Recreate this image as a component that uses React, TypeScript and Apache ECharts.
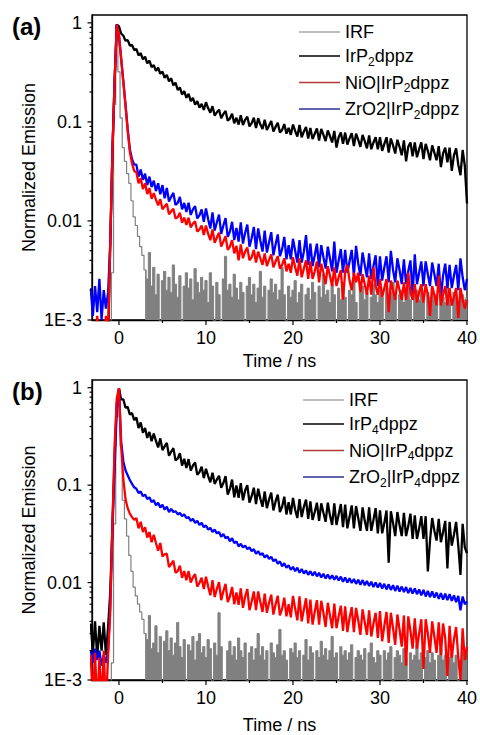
import React, { useEffect, useRef } from 'react';
import * as echarts from 'echarts';

const FONT = "'Liberation Sans', Arial, Helvetica, sans-serif";

// Values, in units of 1E-3 (normalized emission).
const UNIT = 1e-3;
// Time of the first reading and spacing of the readings (ns).
const T_START = -3.25;
const T_STEP = 0.25;

// ---------- panel (a) ----------
const IRF_A = [
  0.5, 0.5, 0.5, 0.5, 0.5, 0.5, 0.5, 0.5, 0.5, 0.5, 3, 150, 950,
  320, 110, 55, 40, 30, 24, 16, 11,
  9, 7, 5.5, 4.5, 3.2, 2.6, 4.8, 2.2,
  3.4, 1.8, 2.9, 0.5, 2.5, 3.1, 2.0, 2.7,
  1.9, 3.6, 2.3, 1.7, 2.8, 0.5, 2.2, 3.0,
  2.1, 2.6, 1.6, 3.3, 2.4, 1.9, 2.7, 2.0,
  2.5, 1.5, 3.0, 2.2, 0.5, 2.4, 1.8, 0.5,
  2.6, 4.4, 2.0, 2.3, 1.7, 2.9, 2.1, 1.6,
  2.4, 1.9, 0.5, 2.2, 2.7, 1.8, 2.3, 1.5,
  2.1, 3.1, 1.7, 2.2, 0.5, 2.0, 2.6, 1.9,
  2.3, 1.6, 2.0, 3.4, 1.8, 0.5, 2.2, 1.7,
  2.0, 2.5, 1.5, 1.9, 2.3, 0.5, 1.8, 2.1,
  1.6, 2.4, 1.9, 0.5, 2.2, 1.7, 2.9, 1.8,
  2.0, 1.5, 2.3, 1.8, 0.5, 2.1, 1.6, 2.4,
  1.7, 0.5, 2.0, 1.8, 2.6, 1.5, 0.5, 1.9,
  2.2, 1.6, 1.9, 0.5, 1.7, 2.3, 1.8, 1.5,
  2.0, 1.7, 0.5, 2.1, 1.6, 1.9, 2.4, 1.7,
  0.5, 1.8, 2.0, 1.5, 1.9, 2.6, 1.6, 0.5,
  1.8, 2.0, 1.6, 2.2, 1.5, 0.5, 1.9, 1.7,
  2.1, 1.6, 1.8, 0.5, 2.0, 1.7, 1.5, 2.3,
  1.6, 0.5, 1.9, 1.7, 1.5, 2.0, 1.8, 1.6,
  1.7,
];

const IRP2_A = [
  0.6, 0.5, 0.7, 0.5, 0.6, 0.5, 0.7, 0.5, 0.6, 6, 50, 260, 960,
  920, 780, 740, 660, 670, 590, 600, 530,
  545, 470, 495, 428, 455, 390, 415, 357,
  375, 327, 352, 306, 322, 278, 298, 257,
  276, 234, 249, 210, 223, 189, 204, 175,
  192, 162, 175, 149, 162, 139, 152, 132,
  158, 137, 124, 144, 116, 125, 133, 109,
  120, 129, 103, 108, 121, 97, 110, 94,
  117, 93, 105, 113, 90, 97, 110, 87,
  109, 94, 85, 105, 83, 92, 102, 80,
  89, 98, 78, 83, 95, 76, 87, 74,
  94, 81, 71, 93, 70, 80, 89, 68,
  87, 67, 76, 86, 65, 85, 74, 64,
  82, 72, 62, 81, 55, 70, 78, 60,
  78, 59, 68, 77, 57, 76, 66, 56,
  74, 64, 54, 73, 53, 62, 70, 53,
  70, 51, 60, 70, 49, 68, 58, 48,
  66, 56, 46, 65, 40, 56, 62, 45,
  62, 44, 53, 62, 42, 60, 51, 41,
  58, 49, 41, 57, 35, 48, 55, 39,
  55, 32, 46, 54, 37, 29, 52, 36,
  15,
];

const NIO_A = [
  0.6, 0.9, 0.5, 1.1, 0.6, 0.8, 0.5, 1.1, 0.7, 6, 50, 260, 960,
  740, 430, 250, 145, 82, 50, 38, 32,
  31, 24, 27, 21, 24, 18.7, 21.5, 16.7,
  19.1, 16.4, 14.4, 16.6, 13.1, 14, 14.9, 11.7,
  12.5, 13.3, 10.6, 10.9, 12.1, 9.6, 10.8, 9.1,
  10.8, 8.6, 9.4, 9.9, 7.8, 8.2, 9.0, 7.2,
  9.0, 7.4, 6.4, 8.2, 6.0, 6.8, 7.6, 5.5,
  6.2, 7.0, 5.1, 5.5, 6.4, 4.7, 5.6, 4.0,
  5.8, 4.2, 4.9, 5.4, 4.0, 4.3, 5.1, 3.8,
  4.9, 4.2, 3.6, 4.7, 3.5, 4.05, 4.6, 3.4,
  3.9, 4.4, 3.3, 3.6, 4.2, 3.1, 3.7, 3.0,
  4.3, 3.4, 2.8, 4.2, 2.7, 3.3, 4.0, 2.6,
  3.9, 2.6, 3.1, 3.9, 2.4, 3.7, 3.0, 2.3,
  3.5, 2.8, 2.2, 3.4, 2.2, 2.7, 3.2, 1.6,
  3.1, 3.6, 2.5, 2.0, 3.0, 2.4, 3.0, 1.9,
  2.9, 2.3, 1.8, 2.8, 1.8, 3.4, 2.2, 1.8,
  2.6, 1.7, 2.1, 2.6, 1.2, 2.5, 2.0, 1.6,
  2.5, 2.0, 1.6, 2.4, 1.6, 3.0, 1.9, 1.6,
  2.3, 1.5, 1.9, 2.3, 1.5, 2.3, 1.8, 1.1,
  2.2, 1.8, 1.4, 2.8, 1.4, 1.8, 2.2, 1.4,
  2.1, 1.4, 1.7, 2.1, 1.05, 2.1, 1.6, 1.3,
  1.6,
];

const ZRO2_A = [
  2.1, 1.1, 2.2, 1.2, 2.6, 1.0, 2.0, 1.3, 1.9, 6, 50, 260, 960,
  750, 440, 260, 150, 85, 53, 42, 37,
  37, 28, 33, 26, 30, 23, 28, 22,
  25.5, 20, 24, 18.6, 23, 16.9, 21.5, 15.7,
  17.5, 19.2, 14.5, 15.2, 17.5, 13.1, 15.2, 12.3,
  15.3, 11.5, 13.1, 14.1, 10.6, 11.4, 13.1, 9.8,
  13.4, 10.4, 8.4, 12.2, 8.0, 9.7, 11.6, 7.4,
  9.0, 10.7, 6.9, 7.8, 9.8, 6.4, 8.5, 6.2,
  9.7, 5.9, 7.6, 9.2, 5.5, 6.7, 8.7, 5.2,
  8.4, 6.3, 4.9, 8.0, 4.8, 6.1, 7.7, 4.5,
  5.8, 7.3, 4.4, 5.2, 6.9, 4.1, 5.7, 4.1,
  6.6, 5.0, 3.8, 6.4, 3.8, 4.9, 7.2, 3.6,
  5.9, 3.5, 4.5, 5.9, 3.4, 5.7, 4.3, 3.3,
  5.5, 4.2, 3.1, 6.2, 3.0, 4.0, 5.2, 3.0,
  5.1, 3.0, 3.9, 5.1, 2.8, 5.6, 3.7, 2.8,
  4.8, 3.6, 2.7, 4.7, 2.6, 3.5, 4.5, 2.2,
  4.4, 2.5, 3.4, 4.4, 2.4, 5.0, 3.2, 2.4,
  4.2, 3.2, 2.3, 4.1, 2.3, 3.1, 4.0, 1.8,
  4.6, 2.3, 3.0, 3.9, 2.2, 3.9, 2.9, 2.2,
  3.8, 2.9, 2.2, 3.7, 1.7, 2.8, 3.7, 2.1,
  3.6, 2.1, 2.8, 3.6, 2.0, 4.2, 2.7, 2.0,
  2.6,
];

// ---------- panel (b) ----------
const IRF_B = [
  0.5, 0.5, 0.5, 0.5, 0.5, 0.5, 0.5, 0.5, 0.5, 0.5, 1.5, 40, 500,
  950, 250, 70, 45, 30, 19, 13, 9,
  7.3, 6, 5, 4.2, 3.0, 2.6, 4.6, 2.1,
  2.4, 3.6, 1.9, 2.8, 0.5, 2.5, 3.2, 2.0,
  2.7, 1.8, 2.4, 3.9, 2.2, 1.7, 2.6, 0.5,
  2.3, 2.0, 2.8, 1.6, 2.5, 3.0, 1.9, 2.2,
  1.7, 2.6, 2.1, 0.5, 2.4, 1.8, 4.9, 2.2,
  0.5, 0.5, 2.0, 2.5, 1.8, 2.2, 1.6, 2.7,
  2.0, 1.7, 2.4, 0.5, 1.9, 2.2, 1.6, 2.1,
  3.0, 1.8, 2.2, 1.6, 2.0, 0.5, 2.4, 1.9,
  1.7, 2.3, 3.3, 1.8, 2.0, 1.6, 0.5, 2.1,
  1.9, 2.4, 1.7, 2.0, 0.5, 1.8, 2.6, 1.6,
  2.2, 1.9, 0.5, 2.0, 1.7, 2.5, 1.8, 2.1,
  1.6, 2.0, 2.8, 1.7, 1.9, 0.5, 2.2, 1.8,
  2.0, 1.6, 1.9, 2.3, 0.5, 1.7, 2.0, 1.8,
  1.6, 2.1, 0.5, 1.9, 2.4, 1.7, 1.5, 2.0,
  1.8, 0.5, 2.0, 1.6, 1.9, 2.2, 0.5, 1.7,
  2.0, 1.8, 1.5, 2.1, 1.7, 0.5, 1.9, 1.6,
  1.8, 2.3, 1.6, 1.9, 0.5, 1.7, 2.0, 1.5,
  1.9, 1.6, 0.5, 1.8, 2.1, 1.6, 1.8, 0.5,
  1.7, 1.9, 1.5, 1.8, 0.5, 1.6, 1.9, 1.7,
  1.6,
];

const IRP4_B = [
  3.8, 1.9, 4.0, 1.7, 3.6, 2.0, 3.9, 1.8, 3.5, 8, 40, 200, 700,
  980, 760, 760, 625, 635, 530, 550, 465,
  495, 386, 440, 345, 385, 305, 352, 282,
  339, 284, 244, 302, 229, 250, 271, 200,
  220, 240, 180, 187, 213, 159, 186, 150,
  185, 141, 159, 171, 128, 136, 155, 118,
  147, 124, 107, 134, 103, 114, 125, 94,
  105, 124, 80, 91, 114, 75, 99, 74,
  105, 70, 88, 100, 66, 77, 94, 64,
  92, 73, 60, 86, 58, 71, 84, 55,
  68, 80, 53, 60, 76, 50, 67, 50,
  74, 56, 46, 72, 47, 60, 71, 45,
  68, 44, 53, 66, 43, 65, 52, 42,
  66, 49, 39, 65, 39, 50, 64, 37,
  63, 36, 47, 62, 36, 61, 46, 34,
  59, 43, 34, 59, 34, 44, 58, 32,
  55, 32, 41, 55, 16, 54, 41, 30,
  53, 39, 30, 52, 30, 38, 51, 28,
  49, 28, 36, 48, 28, 48, 13, 27,
  46, 34, 27, 45, 26, 33, 43, 14,
  42, 24, 31, 42, 24, 12, 40, 23,
  20,
];

const NIO_B = [
  1.8, 0.6, 1.9, 0.5, 1.7, 0.6, 2.0, 0.5, 1.8, 5, 40, 250, 780,
  990, 250, 115, 72, 58, 51, 47, 44,
  46, 36, 42, 33, 37, 29, 33, 26,
  31, 25.5, 21.3, 25.5, 18.5, 19.5, 19.8, 14.4,
  15.5, 16.8, 12.6, 13.1, 14.9, 11.2, 13.1, 10.6,
  13.1, 10.0, 11.3, 12.2, 9.1, 9.9, 11.2, 8.6,
  11.5, 9.1, 7.4, 10.6, 7.1, 8.6, 10.1, 6.6,
  8.2, 9.7, 6.3, 7.2, 9.0, 6.0, 7.9, 5.9,
  8.7, 5.5, 7.2, 8.6, 5.2, 6.4, 8.1, 5.2,
  8.1, 6.3, 5.0, 7.7, 4.9, 6.2, 7.5, 4.7,
  6.0, 7.3, 4.6, 5.4, 7.0, 4.5, 6.0, 4.4,
  7.3, 5.4, 4.1, 7.2, 4.0, 5.3, 6.9, 3.8,
  6.7, 3.7, 5.0, 6.6, 3.7, 6.5, 4.9, 3.5,
  6.2, 4.6, 3.4, 6.1, 3.4, 4.5, 5.8, 3.2,
  5.7, 3.1, 4.3, 5.6, 3.1, 5.5, 4.1, 2.9,
  5.3, 3.9, 2.9, 5.2, 2.8, 3.8, 4.9, 2.7,
  5.1, 2.5, 3.6, 5.0, 2.4, 4.9, 3.4, 2.3,
  4.7, 3.3, 2.2, 4.6, 1.4, 4.5, 3.2, 2.1,
  4.3, 2.1, 3.0, 4.2, 1.3, 4.2, 3.0, 1.9,
  4.0, 2.8, 1.9, 3.9, 1.8, 3.8, 2.7, 1.1,
  3.6, 1.7, 2.6, 3.5, 1.7, 1.0, 3.4, 1.6,
  2.2,
];

const ZRO2_B = [
  2.0, 1.5, 2.1, 1.6, 2.0, 1.4, 1.8, 1.5, 2.0, 6, 35, 150, 600,
  980, 280, 175, 142, 126, 113, 103, 95,
  92, 83, 86, 77, 80, 72, 75, 67,
  70, 62, 66, 59, 63, 56, 60, 53,
  57, 53, 54, 50, 52, 48, 50, 46,
  47, 43, 45, 41, 43, 39, 41, 37,
  38.5, 35, 36.5, 33, 35, 32, 33, 29.5,
  31.5, 28.5, 29.5, 26.5, 28.5, 25.5, 26.5, 23.5,
  25, 23, 24, 22, 23, 21, 22, 19.8,
  21, 19.2, 20, 18.1, 19.2, 17.5, 18.4, 16.6,
  17.3, 15.6, 16.5, 14.7, 15.8, 14.2, 15.1, 13.5,
  14.5, 13.1, 14.2, 12.6, 13.8, 12.4, 13.3, 12.0,
  13.1, 11.8, 12.9, 11.6, 12.6, 11.3, 12.3, 11.0,
  12.1, 10.9, 11.9, 10.7, 11.7, 10.5, 11.5, 10.2,
  11.3, 10.0, 11.1, 9.9, 10.9, 9.7, 10.7, 9.5,
  10.6, 9.4, 10.4, 9.2, 10.2, 9.0, 10.0, 8.9,
  9.9, 8.7, 9.7, 8.5, 9.6, 8.4, 9.4, 8.2,
  9.3, 8.1, 9.1, 8.0, 9.0, 7.8, 8.8, 7.7,
  8.7, 7.6, 8.5, 7.4, 8.4, 7.2, 8.2, 7.1,
  8.1, 7.0, 7.9, 6.8, 7.8, 6.7, 7.7, 6.6,
  7.6, 6.5, 7.4, 6.3, 7.3, 5.2, 7.2, 6.0,
  6.4,
];

// Legend names
const NAMES_A = ['IRF', 'IrP2dppz', 'NiO|IrP2dppz', 'ZrO2|IrP2dppz'];
const NAMES_B = ['IRF', 'IrP4dppz', 'NiO|IrP4dppz', 'ZrO2|IrP4dppz'];
const RICH_NAMES: Record<string, string> = {
  'IRF': '{t|IRF}',
  'IrP2dppz': '{t|IrP}{s|2}{t|dppz}',
  'NiO|IrP2dppz': '{t|NiO|IrP}{s|2}{t|dppz}',
  'ZrO2|IrP2dppz': '{t|ZrO2|IrP}{s|2}{t|dppz}',
  'IrP4dppz': '{t|IrP}{s|4}{t|dppz}',
  'NiO|IrP4dppz': '{t|NiO|IrP}{s|4}{t|dppz}',
  'ZrO2|IrP4dppz': '{t|ZrO}{s|2}{t||IrP}{s|4}{t|dppz}',
};

// Axes
const X_MIN = -3.1;
const X_MAX = 40;
const Y_MIN = 0.001;
const Y_MAX = 1.2;
const X_MAJOR = [0, 10, 20, 30, 40];
const X_MINOR = [5, 15, 25, 35];
const Y_MAJOR = [0.001, 0.01, 0.1, 1];
const Y_MINOR = [
  0.002, 0.003, 0.004, 0.005, 0.006, 0.007, 0.008, 0.009,
  0.02, 0.03, 0.04, 0.05, 0.06, 0.07, 0.08, 0.09,
  0.2, 0.3, 0.4, 0.5, 0.6, 0.7, 0.8, 0.9,
];
const Y_LABELS: Record<string, string> = { '-3': '1E-3', '-2': '0.01', '-1': '0.1', '0': '1' };

const COLORS = { irf: '#808080', ir: '#000000', nio: '#ff0000', zro: '#0000ff' };
const LEGEND_COLORS = ['#a8a8a8', '#000000', '#b23a3a', '#2e2e92'];

function pairs(arr: number[], from = 0, to = arr.length - 1) {
  const out: number[][] = [];
  for (let i = from; i <= to; i++) out.push([T_START + T_STEP * i, arr[i] * UNIT]);
  return out;
}

const IRF_SPLIT = 25; // reading index where the IRF turns into its noise floor

function buildOption() {
  const panels = [
    { tag: '(a)', names: NAMES_A, irf: IRF_A, ir: IRP2_A, nio: NIO_A, zro: ZRO2_A,
      grid: { left: 92, top: 15, width: 377, height: 305 }, nameGap: 32,
      legendLeft: 299, legendTop: 23, tagTop: 14 },
    { tag: '(b)', names: NAMES_B, irf: IRF_B, ir: IRP4_B, nio: NIO_B, zro: ZRO2_B,
      grid: { left: 92, top: 380, width: 377, height: 304 }, nameGap: 36,
      legendLeft: 303, legendTop: 391, tagTop: 379 },
  ];

  const grid: any[] = [];
  const xAxis: any[] = [];
  const yAxis: any[] = [];
  const series: any[] = [];
  const legend: any[] = [];
  const graphic: any[] = [];

  panels.forEach((p, idx) => {
    grid.push({ ...p.grid, show: true, borderColor: '#000', borderWidth: 1.3, backgroundColor: 'transparent' });
    xAxis.push({
      type: 'value', gridIndex: idx, min: X_MIN, max: X_MAX,
      axisLine: { show: true, onZero: false, lineStyle: { color: '#000', width: 1.3 } },
      axisTick: { show: false }, splitLine: { show: false },
      axisLabel: {
        color: '#000', fontFamily: FONT, fontSize: 18, margin: 9,
        formatter: (v: number) => {
          const r = Math.round(v);
          return Math.abs(v - r) < 1e-6 && X_MAJOR.includes(r) ? String(r) : '';
        },
      },
      name: 'Time / ns', nameLocation: 'middle', nameGap: p.nameGap, nameMoveOverlap: false,
      nameTextStyle: { color: '#000', fontFamily: FONT, fontSize: 18 },
    });
    yAxis.push({
      type: 'log', logBase: 10, gridIndex: idx, min: Y_MIN, max: Y_MAX,
      axisLine: { show: true, onZero: false, lineStyle: { color: '#000', width: 1.3 } },
      axisTick: { show: false }, splitLine: { show: false }, minorSplitLine: { show: false },
      axisLabel: {
        color: '#000', fontFamily: FONT, fontSize: 18, margin: 10,
        formatter: (v: number) => {
          const l = Math.log10(v);
          const e = Math.round(l);
          if (Math.abs(l - e) > 1e-6) return '';
          return Y_LABELS[String(e)] ?? '';
        },
      },
      name: 'Normalized Emission', nameLocation: 'middle', nameGap: 54, nameMoveOverlap: false,
      nameTextStyle: { color: '#000', fontFamily: FONT, fontSize: 18 },
    });

    const common = { type: 'line', xAxisIndex: idx, yAxisIndex: idx, symbol: 'none', showSymbol: false, clip: true, animation: false };
    const noisy = 2.3;
    series.push({ ...common, name: 'IRF', data: pairs(p.irf, 0, IRF_SPLIT), step: 'middle',
      lineStyle: { color: COLORS.irf, width: 1.2 }, itemStyle: { color: COLORS.irf } });
    series.push({ ...common, name: 'IRF', data: pairs(p.irf, IRF_SPLIT), step: 'middle',
      lineStyle: { color: COLORS.irf, width: 1 }, itemStyle: { color: COLORS.irf },
      areaStyle: { color: COLORS.irf, opacity: 1, origin: 'start' } });
    series.push({ ...common, name: p.names[1], data: pairs(p.ir),
      lineStyle: { color: COLORS.ir, width: noisy }, itemStyle: { color: COLORS.ir } });
    series.push({ ...common, name: p.names[3], data: pairs(p.zro),
      lineStyle: { color: COLORS.zro, width: noisy }, itemStyle: { color: COLORS.zro } });
    series.push({ ...common, name: p.names[2], data: pairs(p.nio),
      lineStyle: { color: COLORS.nio, width: noisy }, itemStyle: { color: COLORS.nio } });

    const tickData: number[][] = [
      ...X_MAJOR.map((t) => [t, Y_MIN, 0, 5]),
      ...X_MINOR.map((t) => [t, Y_MIN, 0, 3]),
      ...Y_MAJOR.map((v) => [X_MIN, v, 1, 4.5]),
      ...Y_MINOR.map((v) => [X_MIN, v, 1, 2.5]),
    ];
    series.push({
      type: 'custom', xAxisIndex: idx, yAxisIndex: idx, silent: true, z: 10, clip: false, animation: false,
      data: tickData,
      renderItem: (_params: any, api: any) => {
        const pt = api.coord([api.value(0), api.value(1)]);
        const len = api.value(3);
        const vertical = api.value(2) === 0;
        return {
          type: 'line',
          shape: vertical
            ? { x1: pt[0], y1: pt[1], x2: pt[0], y2: pt[1] + len }
            : { x1: pt[0] - len, y1: pt[1], x2: pt[0], y2: pt[1] },
          style: { stroke: '#000', lineWidth: 1.2 },
        };
      },
    });

    legend.push({
      orient: 'vertical', left: p.legendLeft, top: p.legendTop, padding: 0,
      itemWidth: 41, itemHeight: 1.5, itemGap: 6, icon: 'rect', selectedMode: false,
      data: p.names.map((n, k) => ({ name: n, itemStyle: { color: LEGEND_COLORS[k] } })),
      formatter: (n: string) => RICH_NAMES[n] ?? n,
      textStyle: {
        color: '#000', fontFamily: FONT, fontSize: 18,
        rich: {
          t: { color: '#000', fontFamily: FONT, fontSize: 18 },
          s: { color: '#000', fontFamily: FONT, fontSize: 12, padding: [11, 0, 0, 0] },
        },
      },
    });

    graphic.push({
      type: 'text', left: 12, top: p.tagTop,
      style: { text: p.tag, fill: '#000', font: `bold 24px ${FONT}` },
    });
  });

  return {
    animation: false,
    backgroundColor: '#fff',
    grid, xAxis, yAxis, series, legend, graphic,
  };
}

export default function App() {
  const ref = useRef<HTMLDivElement>(null);
  useEffect(() => {
    if (!ref.current) return;
    const chart = echarts.init(ref.current, undefined, { renderer: 'svg' });
    chart.setOption(buildOption() as any);
    return () => chart.dispose();
  }, []);
  return (
    <div
      ref={ref}
      style={{ position: 'absolute', left: 0, top: 0, width: 480, height: 735, background: '#fff' }}
    />
  );
}
